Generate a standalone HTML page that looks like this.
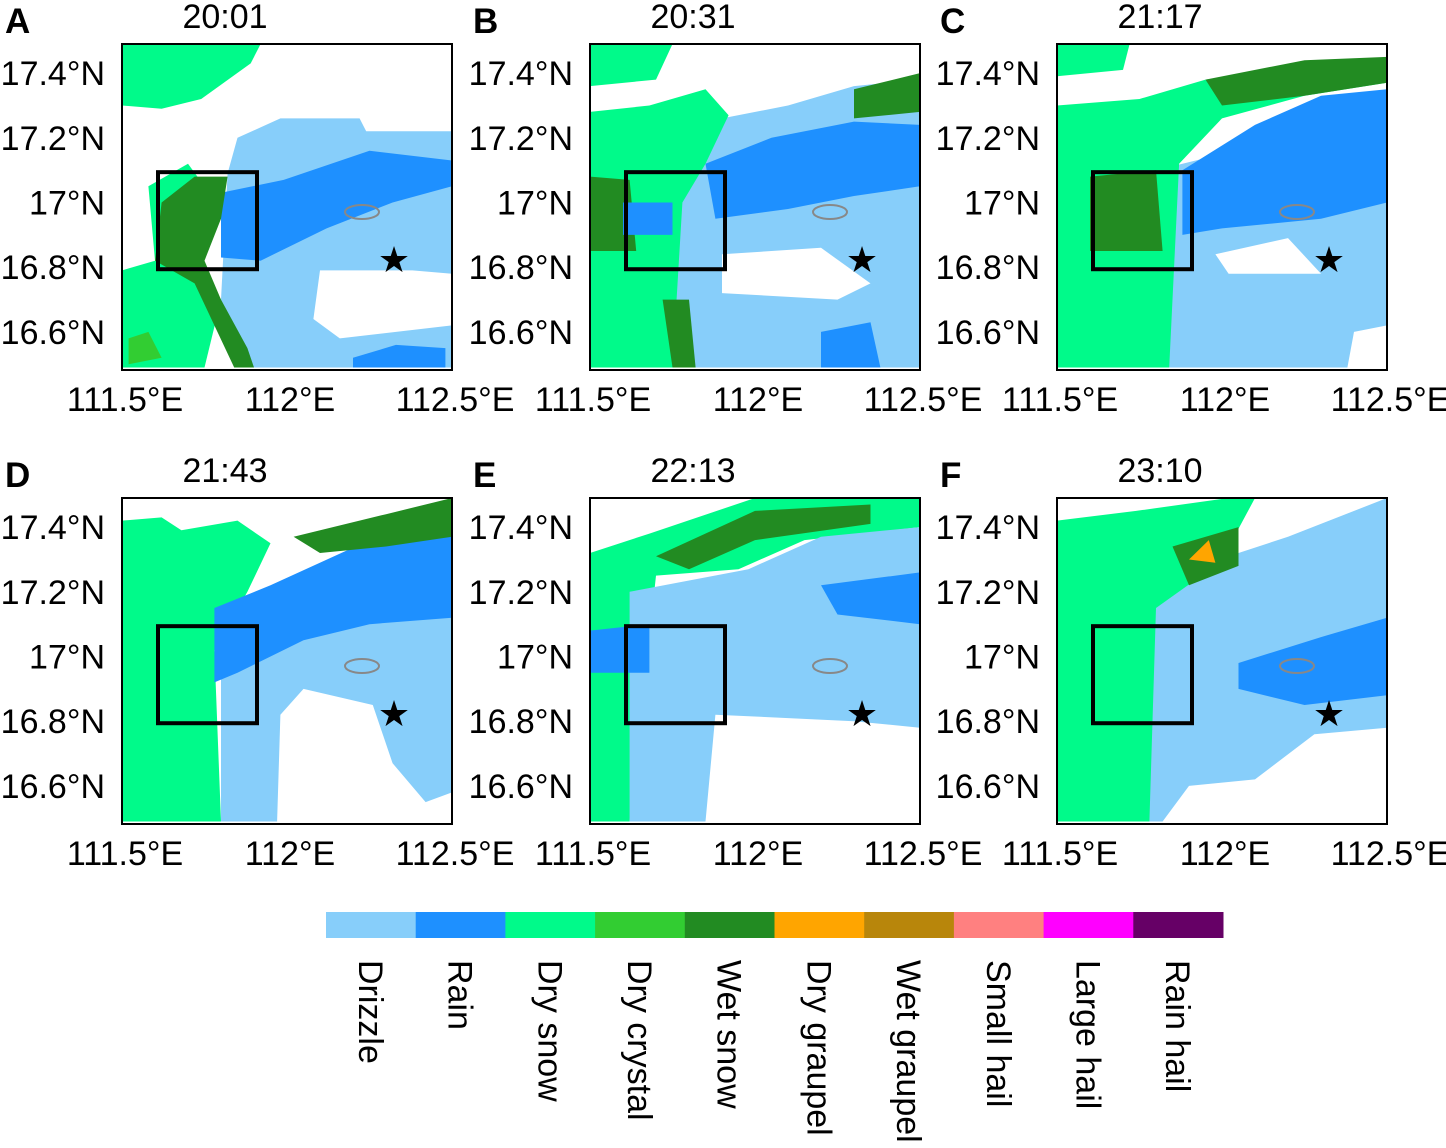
<!DOCTYPE html>
<html><head><meta charset="utf-8"><style>
body{margin:0;background:#fff;}
svg{display:block;font-family:"Liberation Sans",Arial,sans-serif;}
</style></head><body>
<svg id="fig" width="1446" height="1148" viewBox="0 0 1446 1148" xmlns="http://www.w3.org/2000/svg"></svg>
<script>
const classNames=["Drizzle","Rain","Dry snow","Dry crystal","Wet snow","Dry graupel","Wet graupel","Small hail","Large hail","Rain hail"];
const classColors=["#87cefa","#1e90ff","#00fa8a","#32cd32","#228b22","#ffa500","#b8860b","#ff8080","#ff00ff","#660066"];
const panelLetters=["A","B","C","D","E","F"];
const panelTimes=["20:01","20:31","21:17","21:43","22:13","23:10"];
const latTicks=[17.4,17.2,17.0,16.8,16.6];
const lonTicks=[111.5,112.0,112.5];
const latLabels=["17.4°N","17.2°N","17°N","16.8°N","16.6°N"];
const lonLabels=["111.5°E","112°E","112.5°E"];
const panelShapes=[
 [[2,[[111.5,17.49],[111.92,17.49],[111.89,17.43],[111.74,17.32],[111.62,17.29],[111.5,17.3]]],
  [0,[[111.82,17.09],[111.85,17.2],[111.98,17.26],[112.22,17.26],[112.24,17.22],[112.5,17.22],[112.5,16.78],[112.38,16.79],[112.1,16.79],[112.08,16.64],[112.16,16.58],[112.5,16.62],[112.5,16.49],[111.86,16.49],[111.8,16.7]]],
  [1,[[111.8,17.03],[111.99,17.07],[112.25,17.16],[112.5,17.13],[112.5,17.05],[112.32,17.0],[112.12,16.92],[111.92,16.82],[111.8,16.83]]],
  [1,[[112.2,16.52],[112.33,16.56],[112.48,16.55],[112.48,16.49],[112.2,16.49]]],
  [2,[[111.5,16.79],[111.6,16.82],[111.72,16.84],[111.8,16.7],[111.75,16.49],[111.5,16.49]]],
  [2,[[111.58,17.05],[111.7,17.12],[111.75,17.05],[111.7,16.82],[111.6,16.82]]],
  [4,[[111.62,17.0],[111.72,17.08],[111.82,17.08],[111.8,16.95],[111.75,16.82],[111.8,16.7],[111.88,16.55],[111.9,16.49],[111.84,16.49],[111.72,16.75],[111.6,16.82]]],
  [3,[[111.52,16.58],[111.58,16.6],[111.62,16.52],[111.52,16.5]]]],
 [[2,[[111.5,17.49],[111.75,17.49],[111.7,17.38],[111.5,17.36]]],
  [0,[[111.7,17.15],[111.9,17.26],[112.1,17.3],[112.3,17.36],[112.5,17.38],[112.5,16.49],[111.7,16.49]]],
  [1,[[111.85,17.12],[112.05,17.2],[112.3,17.25],[112.5,17.24],[112.5,17.05],[112.3,17.02],[112.1,16.98],[111.88,16.95]]],
  [1,[[112.2,16.6],[112.35,16.63],[112.38,16.49],[112.2,16.49]]],
  ['w',[[111.9,16.84],[112.2,16.86],[112.35,16.75],[112.25,16.7],[111.9,16.72]]],
  [2,[[111.5,17.28],[111.68,17.3],[111.85,17.35],[111.92,17.27],[111.85,17.12],[111.78,17.0],[111.75,16.49],[111.5,16.49]]],
  [4,[[111.5,17.08],[111.62,17.07],[111.64,16.85],[111.5,16.85]]],
  [4,[[111.72,16.7],[111.8,16.7],[111.82,16.49],[111.75,16.49]]],
  [1,[[111.6,17.0],[111.75,17.0],[111.75,16.9],[111.6,16.9]]],
  [4,[[112.3,17.35],[112.5,17.4],[112.5,17.28],[112.3,17.26]]]],
 [[2,[[111.5,17.49],[111.72,17.49],[111.7,17.41],[111.5,17.39]]],
  [0,[[111.8,17.1],[112.2,17.2],[112.5,17.3],[112.5,16.49],[111.82,16.49]]],
  [1,[[111.88,17.1],[112.1,17.24],[112.3,17.33],[112.5,17.35],[112.5,17.0],[112.3,16.95],[112.0,16.92],[111.88,16.9]]],
  ['w',[[111.98,16.84],[112.2,16.89],[112.3,16.78],[112.02,16.78]]],
  ['w',[[112.4,16.6],[112.5,16.62],[112.5,16.49],[112.38,16.49]]],
  [2,[[111.5,17.3],[111.75,17.32],[111.95,17.38],[112.25,17.42],[112.5,17.44],[112.5,17.37],[112.25,17.33],[112.0,17.26],[111.87,17.12],[111.84,16.49],[111.5,16.49]]],
  [4,[[111.95,17.38],[112.25,17.44],[112.5,17.45],[112.5,17.37],[112.25,17.33],[112.0,17.3]]],
  [4,[[111.6,17.08],[111.8,17.1],[111.82,16.85],[111.6,16.85]]]],
 [[2,[[111.5,17.42],[111.62,17.43],[111.68,17.39],[111.85,17.42],[111.95,17.35],[111.88,17.2],[111.78,17.02],[111.8,16.49],[111.5,16.49]]],
  [0,[[111.9,17.05],[112.25,17.16],[112.5,17.18],[112.5,16.58],[112.42,16.55],[112.32,16.67],[112.26,16.85],[112.05,16.9],[111.98,16.82],[111.97,16.49],[111.8,16.49],[111.8,17.0]]],
  [1,[[111.78,17.15],[111.95,17.22],[112.25,17.36],[112.5,17.4],[112.5,17.12],[112.25,17.1],[112.05,17.05],[111.85,16.95],[111.78,16.92]]],
  [4,[[112.02,17.37],[112.3,17.44],[112.5,17.49],[112.5,17.37],[112.3,17.34],[112.1,17.32]]]],
 [[2,[[111.5,17.32],[111.68,17.38],[112.0,17.49],[112.5,17.49],[112.5,17.4],[112.15,17.36],[111.95,17.27],[111.7,17.25],[111.62,16.49],[111.5,16.49]]],
  [0,[[111.62,17.2],[111.98,17.27],[112.2,17.37],[112.5,17.4],[112.5,16.78],[112.3,16.8],[111.88,16.82],[111.85,16.49],[111.62,16.49]]],
  [4,[[111.7,17.31],[112.0,17.45],[112.35,17.47],[112.35,17.41],[112.0,17.36],[111.8,17.27]]],
  [1,[[111.5,17.08],[111.68,17.1],[111.68,16.95],[111.5,16.95]]],
  [1,[[112.2,17.22],[112.5,17.26],[112.5,17.1],[112.25,17.13]]]],
 [[2,[[111.5,17.42],[111.74,17.45],[112.02,17.49],[112.1,17.49],[112.0,17.3],[111.84,17.17],[111.8,16.49],[111.5,16.49]]],
  [0,[[111.8,17.15],[112.02,17.31],[112.2,17.37],[112.5,17.49],[112.5,16.78],[112.28,16.76],[112.1,16.62],[111.9,16.6],[111.82,16.49],[111.78,16.49]]],
  [1,[[112.05,16.98],[112.3,17.06],[112.5,17.12],[112.5,16.88],[112.25,16.85],[112.05,16.9]]],
  [4,[[111.85,17.34],[112.05,17.4],[112.05,17.28],[111.9,17.22]]],
  [5,[[111.9,17.3],[111.96,17.36],[111.98,17.29]]]]
];
const panelOrigin=[[122,44],[590,44],[1057,44],[122,498],[590,498],[1057,498]];
const PW=330,PH=326;
const NS="http://www.w3.org/2000/svg";
const svg=document.getElementById('fig');
function mk(t,a,p){const e=document.createElementNS(NS,t);for(const k in a)e.setAttribute(k,a[k]);(p||svg).appendChild(e);return e;}
const lonX=(lon,ox)=>ox+(lon-111.5)/1.0*PW;
const latY=(lat,oy)=>oy+(17.49-lat)/0.2*64.7;
panelOrigin.forEach((o,i)=>{
 const [ox,oy]=o;
 const g=mk('g',{});
 
 
 const cp=mk('clipPath',{id:'cp'+i},g);
 mk('rect',{x:ox,y:oy,width:PW,height:PH},cp);
 const mg=mk('g',{'clip-path':'url(#cp'+i+')'},g);
 
 
 panelShapes[i].forEach(s=>{
  const col=s[0]==='w'?'#fff':classColors[s[0]];
  const pts=s[1].map(p=>lonX(p[0],ox).toFixed(1)+','+latY(p[1],oy).toFixed(1)).join(' ');
  const pg=mk('polygon',{points:pts,fill:col},mg);
  
  
 });
 const isl=mk('ellipse',{cx:ox+240,cy:oy+168,rx:17,ry:7,fill:'none',stroke:'#888','stroke-width':2},mg);
 
 
 const bx=mk('rect',{x:lonX(111.6,ox)+3,y:latY(17.1,oy)+2,width:PW*0.3,height:64.7*1.5,fill:'none',stroke:'#000','stroke-width':4},g);
 
 
 const st=mk('text',{x:ox+272,y:oy+228,'font-size':36,'text-anchor':'middle',fill:'#000'},g);
 st.textContent='★';
 
 
 const fr=mk('rect',{x:ox,y:oy,width:PW,height:PH,fill:'none',stroke:'#000','stroke-width':2},g);
 
 
 latTicks.forEach((t,k)=>{
  const tx=mk('text',{x:ox-17,y:latY(t,oy)+12,'font-size':34,'text-anchor':'end'},g);
  tx.textContent=latLabels[k];
  
  
 });
 lonTicks.forEach((t,k)=>{
  const tx=mk('text',{x:lonX(t,ox)+3,y:oy+PH+41,'font-size':34,'text-anchor':'middle'},g);
  tx.textContent=lonLabels[k];
  
  
 });
 const tt=mk('text',{x:ox+103,y:oy-16,'font-size':34,'text-anchor':'middle'},g);
 tt.textContent=panelTimes[i];
 
 
 const lt=mk('text',{x:ox-117,y:oy-11,'font-size':35,'font-weight':'bold'},g);
 lt.textContent=panelLetters[i];
 
 
});
const cb=mk('g',{});


const cbX=326,cbW=897,cbY=912,cbH=26,segW=cbW/classNames.length;
classNames.forEach((n,i)=>{
 const r=mk('rect',{x:cbX+i*segW,y:cbY,width:segW+0.5,height:cbH,fill:classColors[i]},cb);
 
 
 const cx=cbX+i*segW+segW/2-12;
 const t=mk('text',{x:cx,y:960,'font-size':34,transform:'rotate(90 '+cx+' 960)'},cb);
 t.textContent=n;
 
 
});
</script>
</body></html>
